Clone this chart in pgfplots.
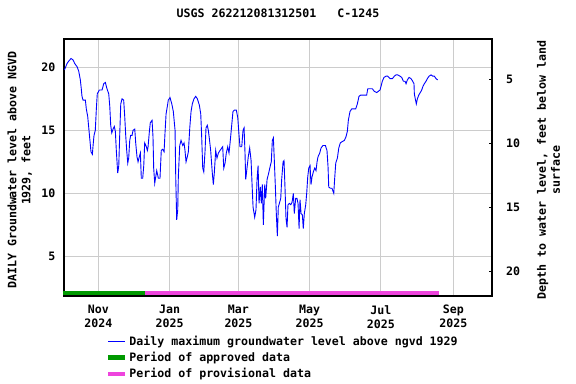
\documentclass[border=0pt]{standalone}
\usepackage{pgfplots}
\pgfplotsset{compat=1.18}
\usepackage{fontspec}
\setmainfont{DejaVu Sans Mono}
\setmonofont{DejaVu Sans Mono}
\newcommand\f{\fontsize{11.6bp}{14bp}\selectfont\bfseries}
\definecolor{appr}{RGB}{0,153,0}
\definecolor{prov}{RGB}{238,68,221}
\definecolor{gridc}{RGB}{204,204,204}
\begin{document}
\begin{tikzpicture}
\begin{axis}[
  name=main,
  scale only axis, width=428bp, height=257bp,
  xmin=-29.4, xmax=337.1, ymin=1.85, ymax=22.25,
  clip=false,
  xtick={0,61,120,181,242,304},
  xticklabels={{Nov\\2024},{Jan\\2025},{Mar\\2025},{May\\2025},{Jul\\2025},{Sep\\2025}},
  xticklabel style={align=center, font=\f, inner sep=0pt, anchor=north, yshift=-9bp},
  ytick={5,10,15,20},
  yticklabel style={font=\f, inner sep=0pt, anchor=east, xshift=-8.5bp},
  /pgf/number format/assume math mode=true,
  xtick pos=bottom, ytick pos=left,
  major tick length=0pt,
  grid=major, grid style={color=gridc, line width=1bp},
  axis line style={line width=1.3bp},
  title={USGS 262212081312501\ \ \ C-1245},
  title style={font=\f, at={(axis description cs:0.5,1)}, anchor=center, yshift=20bp},
  ylabel={DAILY Groundwater level above NGVD\\1929, feet},
  ylabel style={font=\f, align=center, at={(axis description cs:-0.074,0.49)}, anchor=south, inner sep=0pt},
  legend style={at={(axis description cs:0.098,-0.146)}, anchor=north west, draw=none, fill=none, font=\f, inner sep=0pt, row sep=1.5bp},
  legend cell align=left,
]
\addplot[blue, line width=0.9bp] coordinates {
(-29,19.8) (-26.8,20.3) (-25.3,20.5) (-23.4,20.7) (-21.7,20.6) (-20.2,20.3) (-18.2,20.05) (-16.8,19.7) (-15.4,19.0) (-14.6,18.3) (-14.0,17.7) (-13.1,17.4) (-11.1,17.4) (-10.3,16.7) (-9.1,16.1) (-8.2,15.2) (-7.1,14.1) (-6.3,13.3) (-5.1,13.1) (-4.5,13.8) (-3.7,14.6) (-2.6,15.0) (-1.7,16.7) (-0.9,17.9) (0.9,18.2) (3.2,18.2) (4.6,18.7) (6.0,18.8) (7.4,18.3) (8.9,17.9) (9.8,16.9) (10.6,15.4) (11.5,14.8) (12.6,15.1) (13.7,15.3) (14.6,14.9) (15.4,13.4) (16.6,11.6) (17.5,12.2) (18.3,14.6) (19.2,17.1) (20.3,17.5) (21.7,17.4) (22.6,16.1) (23.5,14.5) (24.3,13.4) (25.2,12.4) (26.0,12.8) (26.9,14.2) (27.7,14.6) (28.9,14.6) (29.7,15.0) (31.2,15.1) (32.0,14.0) (33.1,12.9) (34.0,12.5) (35.1,12.9) (36.0,13.2) (36.8,11.2) (38.0,11.2) (38.9,12.2) (39.7,14.0) (41.1,13.7) (42.0,13.4) (42.6,13.7) (43.7,14.9) (44.5,15.6) (46.0,15.8) (46.8,14.5) (47.4,12.0) (48.3,10.8) (50.0,11.8) (51.4,11.2) (52.8,11.2) (53.9,13.4) (55.1,13.5) (56.3,13.3) (57.1,14.8) (58.0,16.3) (59.1,16.9) (59.9,17.4) (61.4,17.6) (62.9,17.1) (64.2,16.5) (65.7,15.0) (66.3,11.2) (67.1,7.9) (68.0,8.7) (68.5,11.3) (69.7,13.8) (70.8,14.2) (72.3,13.8) (73.4,14.0) (74.2,13.4) (75.1,12.5) (76.2,12.9) (77.1,13.3) (78.3,15.2) (79.4,16.5) (80.5,17.1) (81.9,17.5) (83.4,17.7) (84.8,17.5) (86.5,17.0) (87.7,16.3) (88.5,14.5) (89.4,12.0) (90.3,11.7) (91.4,13.4) (92.2,15.2) (93.3,15.4) (94.2,15.0) (95.0,14.4) (96.2,13.4) (97.6,11.6) (98.5,10.7) (99.3,11.6) (100.5,13.4) (101.6,12.8) (102.8,13.2) (104.2,13.4) (105.7,13.6) (106.5,13.7) (107.4,12.0) (108.5,12.4) (109.6,13.2) (110.8,13.7) (111.9,13.2) (112.8,14.0) (114.2,15.4) (115.3,16.5) (116.5,16.6) (118.2,16.6) (119.4,16.0) (120.5,14.6) (121.3,13.7) (122.8,13.7) (123.9,15.0) (124.8,15.2) (125.6,13.2) (126.2,11.1) (127.3,12.0) (128.4,12.9) (129.6,13.6) (130.8,12.6) (131.6,10.8) (132.5,8.9) (133.9,8.1) (135.0,8.7) (135.9,11.1) (136.8,12.2) (137.6,9.2) (138.7,10.5) (139.6,9.2) (140.4,10.7) (141.3,7.5) (142.5,10.7) (143.3,9.6) (144.5,11.1) (145.6,11.5) (146.8,12.0) (148.1,12.5) (149.0,14.2) (149.9,14.4) (150.7,12.6) (151.6,10.5) (152.4,8.4) (153.3,6.6) (154.1,8.9) (155.3,9.3) (156.2,9.6) (157.0,11.1) (158.2,12.5) (159.0,12.6) (159.9,10.3) (160.7,8.0) (161.6,7.3) (162.4,9.1) (163.6,9.2) (164.8,9.1) (165.9,9.3) (167.0,10.0) (167.8,8.4) (169.0,9.6) (170.1,9.6) (171.0,9.2) (171.9,7.2) (172.7,9.5) (173.6,8.4) (174.7,8.3) (175.5,7.2) (176.4,8.4) (177.6,9.1) (178.5,10.1) (179.3,11.3) (180.2,12.0) (181.3,12.2) (182.1,10.7) (183.0,11.3) (184.1,11.7) (185.3,12.0) (186.4,11.8) (187.3,12.5) (188.1,12.9) (189.6,13.2) (190.7,13.6) (192.4,13.8) (194.4,13.8) (195.8,13.4) (196.7,12.1) (197.3,10.5) (198.7,10.4) (200.1,10.4) (201.6,10.0) (202.4,11.2) (203.3,12.4) (204.7,12.8) (205.9,13.6) (207.2,14.0) (208.7,14.1) (210.7,14.2) (212.1,14.5) (213.2,14.9) (214.1,15.8) (215.5,16.5) (217.0,16.7) (219.0,16.7) (220.4,16.7) (221.8,17.1) (223.2,17.7) (224.7,17.8) (227.8,17.8) (229.8,17.8) (230.7,18.3) (232.1,18.3) (234.6,18.3) (236.3,18.1) (238.4,18.0) (239.8,18.1) (241.2,18.2) (242.1,18.5) (243.2,18.9) (244.6,19.2) (246.4,19.3) (247.8,19.3) (249.8,19.1) (251.8,19.1) (253.5,19.3) (254.9,19.4) (256.4,19.4) (258.3,19.3) (259.8,19.2) (261.2,18.9) (262.6,18.9) (263.5,18.7) (264.6,19.0) (266.1,19.2) (267.8,19.1) (269.2,18.9) (270.3,18.7) (270.6,17.9) (271.4,17.5) (272.3,17.1) (273.2,17.5) (274.4,17.8) (275.7,18.0) (276.9,18.2) (278.0,18.5) (279.2,18.7) (280.6,18.9) (281.7,19.1) (283.2,19.3) (284.9,19.4) (286.4,19.3) (287.7,19.3) (289.2,19.1) (290.6,19.0)
};
\addlegendentry{Daily maximum groundwater level above ngvd 1929}
\addplot[appr, line width=4.3bp] coordinates {(-30.5,2.09) (40,2.09)};
\addlegendentry{Period of approved data}
\addplot[prov, line width=4.3bp] coordinates {(40,2.09) (291.7,2.09)};
\addlegendentry{Period of provisional data}
\end{axis}
\begin{axis}[
  scale only axis, width=428bp, height=257bp,
  xmin=-29.4, xmax=337.1, ymin=1.86, ymax=21.9,
  y dir=reverse,
  axis x line=none, axis y line*=right,
  axis line style={line width=1.3bp},
  ytick={5,10,15,20},
  tick align=inside, major tick length=3.5bp,
  tick style={black, line width=1bp},
  /pgf/number format/assume math mode=true,
  yticklabel style={font=\f, inner sep=0pt, anchor=west, xshift=14bp},
  ylabel={Depth to water level, feet below land\\surface},
  ylabel style={font=\f, align=center, rotate=0, at={(axis description cs:1.105,0.49)}, anchor=north, inner sep=0pt},
]
\end{axis}
\pgfresetboundingbox
\path ([shift={(-64bp,-88bp)}]main.south west) rectangle ([shift={(84bp,39bp)}]main.north east);
\end{tikzpicture}
\end{document}
